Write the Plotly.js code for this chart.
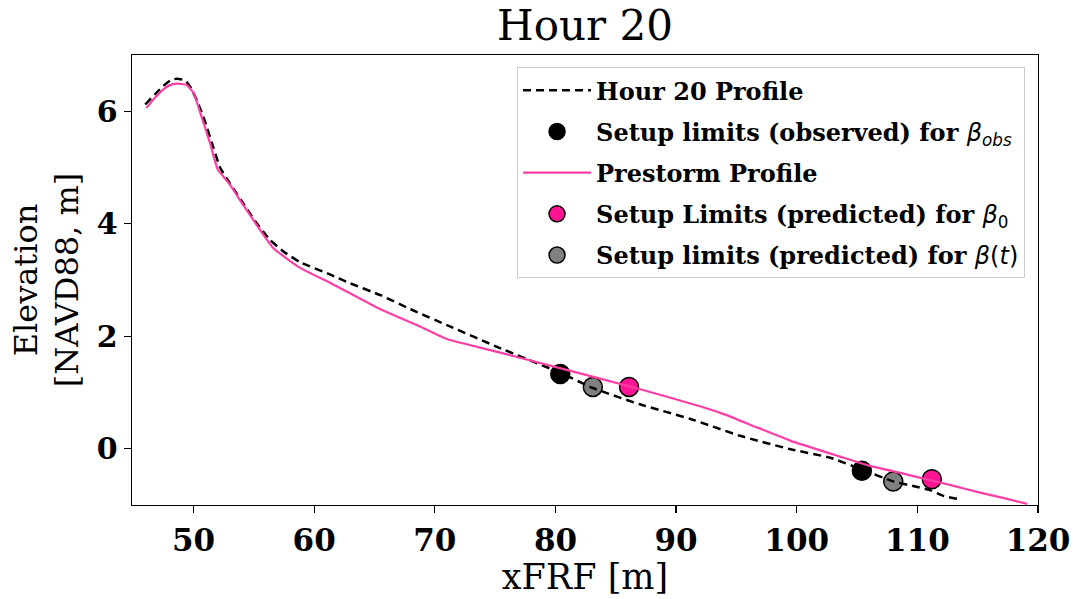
<!DOCTYPE html>
<html>
<head>
<meta charset="utf-8">
<script src="https://cdn.plot.ly/plotly-3.0.1.min.js"></script>
<style>html,body{margin:0;padding:0;background:#fff;}#chart{width:1081px;height:599px;}</style>
</head>
<body>
<div id="chart"></div>
<script>
// Hour 20 profile (dashed black)
const hour20X = [46.0, 46.8, 47.5, 48.1, 48.6, 49.3, 49.8, 50.3, 50.9, 51.5, 52.2, 53.0, 54.0, 55.1, 56.3, 57.5, 58.8, 61.3, 63.0, 65.5, 68.0, 71.3, 75.4, 80.4, 83.1, 87.0, 91.2, 95.3, 99.5, 102.8, 105.4, 108.0, 110.0, 111.1, 112.2, 113.3];
const hour20Y = [6.12, 6.30, 6.45, 6.55, 6.58, 6.55, 6.41, 6.18, 5.85, 5.45, 5.00, 4.72, 4.40, 4.05, 3.72, 3.50, 3.32, 3.10, 2.94, 2.73, 2.48, 2.17, 1.79, 1.35, 1.08, 0.79, 0.53, 0.23, -0.01, -0.16, -0.37, -0.58, -0.68, -0.74, -0.84, -0.89];

// Prestorm profile (pink)
const prestormX = [46.1, 46.8, 47.5, 48.0, 48.6, 49.4, 50.0, 50.7, 51.4, 52.0, 53.0, 54.1, 55.2, 56.6, 58.8, 61.5, 65.4, 68.5, 71.0, 75.4, 80.6, 86.5, 91.9, 93.9, 96.7, 99.5, 103.6, 106.0, 108.6, 111.1, 113.0, 115.2, 117.0, 119.1];
const prestormY = [6.06, 6.24, 6.39, 6.46, 6.49, 6.47, 6.33, 5.88, 5.41, 4.97, 4.70, 4.34, 3.99, 3.57, 3.22, 2.93, 2.49, 2.20, 1.95, 1.71, 1.42, 1.09, 0.76, 0.62, 0.38, 0.14, -0.14, -0.30, -0.43, -0.56, -0.66, -0.78, -0.87, -0.98];

// Setup limits
const obsX = [80.4, 105.4];
const obsY = [1.33, -0.39];
const b0X = [86.1, 111.2];
const b0Y = [1.10, -0.54];
const btX = [83.1, 108.0];
const btY = [1.10, -0.58];

const sans = 'font-family:DejaVu Sans;font-weight:normal';
const labels = [
  'Hour 20 Profile',
  'Setup limits (observed) for <span style="' + sans + ';font-style:italic">β</span><sub><span style="' + sans + ';font-style:italic">obs</span></sub>',
  'Prestorm Profile',
  'Setup Limits (predicted) for <span style="' + sans + ';font-style:italic">β</span><sub><span style="' + sans + '">0</span></sub>',
  'Setup limits (predicted) for <span style="' + sans + ';font-style:italic">β</span><span style="' + sans + '">(</span><span style="' + sans + ';font-style:italic">t</span><span style="' + sans + '">)</span>'
];

const mk = (color) => ({size: 19, color: color, line: {color: '#000', width: 1.5}});

const traces = [
  {x: obsX, y: obsY, mode: 'markers', name: labels[1], marker: mk('#000000'), legendrank: 2, legendgroup: 'g2'},
  {x: b0X, y: b0Y, mode: 'markers', name: labels[3], marker: mk('#ff1493'), legendrank: 4, legendgroup: 'g4'},
  {x: btX, y: btY, mode: 'markers', name: labels[4], marker: mk('#808080'), legendrank: 5, legendgroup: 'g5'},
  {x: hour20X, y: hour20Y, mode: 'lines', name: labels[0], line: {color: '#000', width: 2.5, dash: '8px,5px', shape: 'spline', smoothing: 0.4}, legendrank: 1, legendgroup: 'g1'},
  {x: prestormX, y: prestormY, mode: 'lines', name: labels[2], line: {color: '#ff3ea5', width: 2.2, shape: 'spline', smoothing: 0.4}, legendrank: 3, legendgroup: 'g3'}
];

const layout = {
  width: 1081, height: 599,
  margin: {l: 132, r: 43, t: 55, b: 94},
  paper_bgcolor: '#fff', plot_bgcolor: '#fff',
  showlegend: true,
  title: {text: 'Hour 20', font: {family: 'DejaVu Serif', size: 42, color: '#000'}, x: 0.5, xanchor: 'center', y: 0.958, yanchor: 'middle', xref: 'paper', yref: 'container'},
  xaxis: {
    range: [44.9, 120], tickvals: [50, 60, 70, 80, 90, 100, 110, 120],
    showgrid: false, zeroline: false, showline: true, mirror: true, linecolor: '#000', linewidth: 1.3,
    ticks: 'outside', ticklen: 7, tickwidth: 1.3, tickcolor: '#000',
    tickfont: {family: 'DejaVu Serif', size: 31, weight: 'bold', color: '#000'},
    title: {text: 'xFRF [m]', font: {family: 'DejaVu Serif', size: 35, color: '#000'}, standoff: 6}
  },
  yaxis: {
    range: [-1, 7], tickvals: [0, 2, 4, 6],
    showgrid: false, zeroline: false, showline: true, mirror: true, linecolor: '#000', linewidth: 1.3,
    ticks: 'outside', ticklen: 7, tickwidth: 1.3, tickcolor: '#000',
    tickfont: {family: 'DejaVu Serif', size: 30, weight: 'bold', color: '#000'},
    title: {text: 'Elevation<br>[NAVD88, m]', font: {family: 'DejaVu Serif', size: 32, color: '#000'}, standoff: 8}
  },
  legend: {
    x: 0.9857, xanchor: 'right', y: 0.973, yanchor: 'top',
    bgcolor: 'rgba(255,255,255,0.85)', bordercolor: '#cccccc', borderwidth: 1,
    font: {family: 'DejaVu Serif', size: 24, weight: 'bold', color: '#000'},
    traceorder: 'grouped', tracegroupgap: 7, itemwidth: 68
  }
};

Plotly.newPlot('chart', traces, layout, {displayModeBar: false, staticPlot: true});
</script>
</body>
</html>
